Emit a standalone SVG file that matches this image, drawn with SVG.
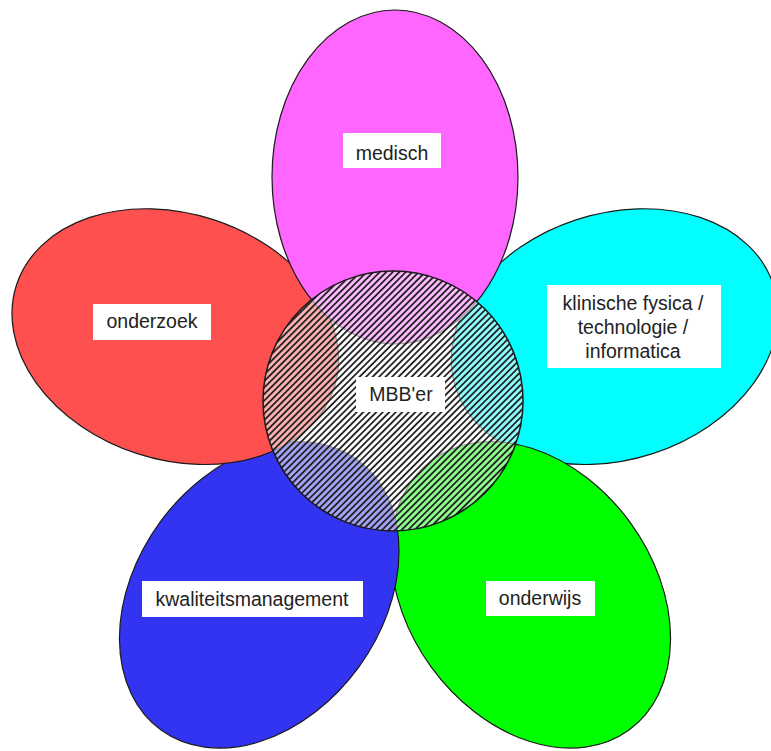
<svg xmlns="http://www.w3.org/2000/svg" width="771" height="751" viewBox="0 0 771 751">
<style>
.petal{stroke:#1a1a1a;stroke-width:1.2}
.box{fill:#ffffff}
.lbl{font-family:"Liberation Sans",Arial,sans-serif;font-size:19.5px;fill:#222;text-anchor:middle}
</style>
<defs>
<pattern id="hatch" width="4.6" height="10" patternUnits="userSpaceOnUse" patternTransform="rotate(45)">
<rect x="0" y="0" width="1.8" height="10" fill="#222"/>
</pattern>
</defs>
<rect width="771" height="751" fill="#ffffff"/>
<g id="connectors"/>
<g id="node-informatica">
<ellipse class="petal" cx="395" cy="177" rx="123" ry="167" fill="#00FFFF" transform="rotate(72 395 408)"/>
<rect class="box" x="547" y="285" width="174" height="83"/>
<text class="lbl" x="633" y="310">klinische fysica /</text>
<text class="lbl" x="633" y="334">technologie /</text>
<text class="lbl" x="633" y="358">informatica</text>
</g>
<g id="node-onderwijs">
<ellipse class="petal" cx="395" cy="177" rx="123" ry="167" fill="#00FF00" transform="rotate(144 395 408)"/>
<rect class="box" x="486" y="581" width="109" height="35"/>
<text class="lbl" x="540" y="605">onderwijs</text>
</g>
<g id="node-kwaliteitsmanagement">
<ellipse class="petal" cx="395" cy="177" rx="123" ry="167" fill="#3333F2" transform="rotate(216 395 408)"/>
<rect class="box" x="142" y="581" width="221" height="36"/>
<text class="lbl" x="252" y="605.5">kwaliteitsmanagement</text>
</g>
<g id="node-onderzoek">
<ellipse class="petal" cx="395" cy="177" rx="123" ry="167" fill="#FF5050" transform="rotate(288 395 408)"/>
<rect class="box" x="93" y="304" width="118" height="36"/>
<text class="lbl" x="152" y="328">onderzoek</text>
</g>
<g id="node-medisch">
<ellipse class="petal" cx="395" cy="177" rx="123" ry="167" fill="#FF66FF"/>
<rect class="box" x="343" y="133" width="98" height="35"/>
<text class="lbl" x="392" y="160">medisch</text>
</g>
<g id="node-mbber">
<circle cx="393" cy="401" r="130" fill="#ffffff" fill-opacity="0.55"/>
<circle cx="393" cy="401" r="130" fill="url(#hatch)" stroke="#1a1a1a" stroke-width="1.5"/>
<rect class="box" x="356" y="377" width="89" height="35"/>
<text class="lbl" x="401" y="401">MBB'er</text>
</g>
</svg>
